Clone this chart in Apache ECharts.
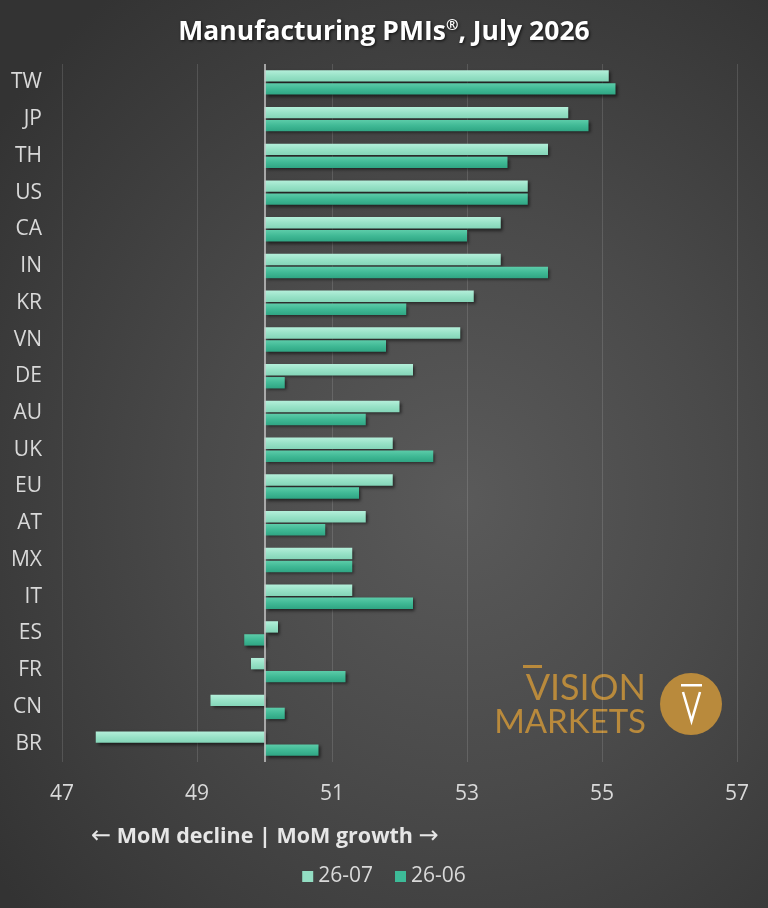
<!DOCTYPE html>
<html>
<head>
<meta charset="utf-8">
<title>Manufacturing PMIs, July 2026</title>
<script src="https://cdn.jsdelivr.net/npm/echarts@6/dist/echarts.min.js"></script>
<style>
    html, body { margin: 0; padding: 0; }
    body {
        width: 768px; height: 908px;
        background: radial-gradient(ellipse 75% 70% at 60% 55%, #5a5a5a 0%, #4a4a4a 45%, #333333 100%);
    }
    #main { width: 768px; height: 908px; }
</style>
</head>
<body>
<div id="main"></div>
<script>
// 国家 / 地区（从上到下）
var countries = ['TW', 'JP', 'TH', 'US', 'CA', 'IN', 'KR', 'VN', 'DE', 'AU',
                 'UK', 'EU', 'AT', 'MX', 'IT', 'ES', 'FR', 'CN', 'BR'];
// 2026-07 PMI
var pmiJul = [55.1, 54.5, 54.2, 53.9, 53.5, 53.5, 53.1, 52.9, 52.2, 52.0,
              51.9, 51.9, 51.5, 51.3, 51.3, 50.2, 49.8, 49.2, 47.5];
// 2026-06 PMI
var pmiJun = [55.2, 54.8, 53.6, 53.9, 53.0, 54.2, 52.1, 51.8, 50.3, 51.5,
              52.5, 51.4, 50.9, 51.3, 52.2, 49.7, 51.2, 50.3, 50.8];
var seriesNames = ['26-07', '26-06'];
var baseValue = 50;          // 扩张/收缩分界线
var axisMin = 47, axisMax = 57, axisStep = 2;

var gold = '#b98a3c';
var labelFont = 'Open Sans';

/**
 * 从 50 开始画的横向柱子
 * @param offset 相对类目中心的偏移（带宽比例）
 * @param stops 渐变色
 */
function barFrom50(offset, stops){
    return function (params, api) {
        var cat = api.value(1);
        var start = api.coord([baseValue, cat]);
        var end = api.coord([api.value(0), cat]);
        var band = api.size([0, 1])[1];
        var h = band * 0.31;
        var y = start[1] + offset * band - h / 2;
        return {
            type: 'rect',
            shape: {
                x: Math.min(start[0], end[0]),
                y: y,
                width: Math.abs(end[0] - start[0]),
                height: h
            },
            style: {
                fill: new echarts.graphic.LinearGradient(0, 0, 0, 1, stops),
                shadowColor: 'rgba(0,0,0,0.55)',
                shadowBlur: 3,
                shadowOffsetX: 2,
                shadowOffsetY: 2
            }
        };
    };
}

function toData(values){
    return values.map(function (v, i) { return [v, i]; });
}

var main = echarts.init(document.getElementById('main'));
var option = {
    title: {
        text: 'Manufacturing PMIs{sup|®}, July 2026',
        left: 'center',
        top: 13,
        textStyle: {
            color: '#ffffff',
            fontFamily: labelFont,
            fontSize: 26.5,
            fontWeight: 'bold',
            textShadowColor: 'rgba(0,0,0,0.75)',
            textShadowBlur: 3,
            textShadowOffsetX: 1,
            textShadowOffsetY: 1,
            rich: {
                sup: {
                    color: '#ffffff',
                    fontFamily: labelFont,
                    fontSize: 15,
                    fontWeight: 'bold',
                    padding: [0, 0, 13, 0],
                    textShadowColor: 'rgba(0,0,0,0.75)',
                    textShadowBlur: 3,
                    textShadowOffsetX: 1,
                    textShadowOffsetY: 1
                }
            }
        }
    },
    legend: {
        data: seriesNames,
        bottom: 16,
        left: 'center',
        icon: 'rect',
        itemWidth: 11,
        itemHeight: 11,
        itemGap: 22,
        textStyle: {
            color: '#d9d9d9',
            fontFamily: labelFont,
            fontSize: 21
        }
    },
    grid: {
        left: 62,
        right: 31,
        top: 64,
        height: 698
    },
    xAxis: {
        type: 'value',
        min: axisMin,
        max: axisMax,
        interval: axisStep,
        axisLine: { show: false },
        axisTick: { show: false },
        axisLabel: {
            color: '#d9d9d9',
            fontFamily: labelFont,
            fontSize: 21,
            margin: 22
        },
        splitLine: {
            lineStyle: { color: 'rgba(255,255,255,0.13)', width: 1 }
        }
    },
    yAxis: {
        type: 'category',
        inverse: true,
        data: countries,
        axisLine: { show: false },
        axisTick: { show: false },
        axisLabel: {
            color: '#d9d9d9',
            fontFamily: labelFont,
            fontSize: 21,
            margin: 20
        }
    },
    series: [
        {
            name: seriesNames[0],
            type: 'custom',
            itemStyle: { color: '#93dec3' },
            encode: { x: 0, y: 1 },
            renderItem: barFrom50(-0.177, [
                { offset: 0, color: '#b4efda' },
                { offset: 0.5, color: '#98e2c7' },
                { offset: 1, color: '#84d5b8' }
            ]),
            data: toData(pmiJul),
            markLine: {
                silent: true,
                symbol: 'none',
                label: { show: false },
                lineStyle: { color: '#c9c9c9', width: 1.5, type: 'solid' },
                data: [{ xAxis: baseValue }]
            },
            z: 3
        },
        {
            name: seriesNames[1],
            type: 'custom',
            itemStyle: { color: '#3dbb98' },
            encode: { x: 0, y: 1 },
            renderItem: barFrom50(0.177, [
                { offset: 0, color: '#5ccca9' },
                { offset: 0.5, color: '#40b995' },
                { offset: 1, color: '#2fa583' }
            ]),
            data: toData(pmiJun),
            z: 3
        }
    ],
    graphic: [
        {
            type: 'text',
            left: 91,
            top: 825,
            style: {
                text: '{arr|←} MoM decline | MoM growth {arr|→}',
                fill: '#e6e6e6',
                font: 'bold 21.5px "Open Sans"',
                rich: {
                    arr: {
                        fill: '#e6e6e6',
                        font: '24px "DejaVu Sans"'
                    }
                }
            }
        },
        // logo
        {
            type: 'group',
            silent: true,
            children: [
                {
                    type: 'rect',
                    shape: { x: 523, y: 665, width: 19, height: 3 },
                    style: { fill: gold }
                },
                {
                    type: 'text',
                    x: 646, y: 688,
                    style: {
                        text: 'VISION',
                        fill: gold,
                        font: '400 36px Lato',
                        align: 'right',
                        verticalAlign: 'middle'
                    }
                },
                {
                    type: 'text',
                    x: 646, y: 722,
                    style: {
                        text: 'MARKETS',
                        fill: gold,
                        font: '400 33px Lato',
                        align: 'right',
                        verticalAlign: 'middle'
                    }
                },
                {
                    type: 'circle',
                    shape: { cx: 691, cy: 704, r: 31 },
                    style: { fill: gold }
                },
                {
                    type: 'rect',
                    shape: { x: 681, y: 684, width: 21, height: 2.5 },
                    style: { fill: '#ffffff' }
                },
                {
                    type: 'polyline',
                    shape: { points: [[683, 692], [691.5, 721], [700, 692]] },
                    style: { stroke: '#ffffff', lineWidth: 2.5, fill: null }
                }
            ]
        }
    ]
};
main.setOption(option);
</script>
</body>
</html>
